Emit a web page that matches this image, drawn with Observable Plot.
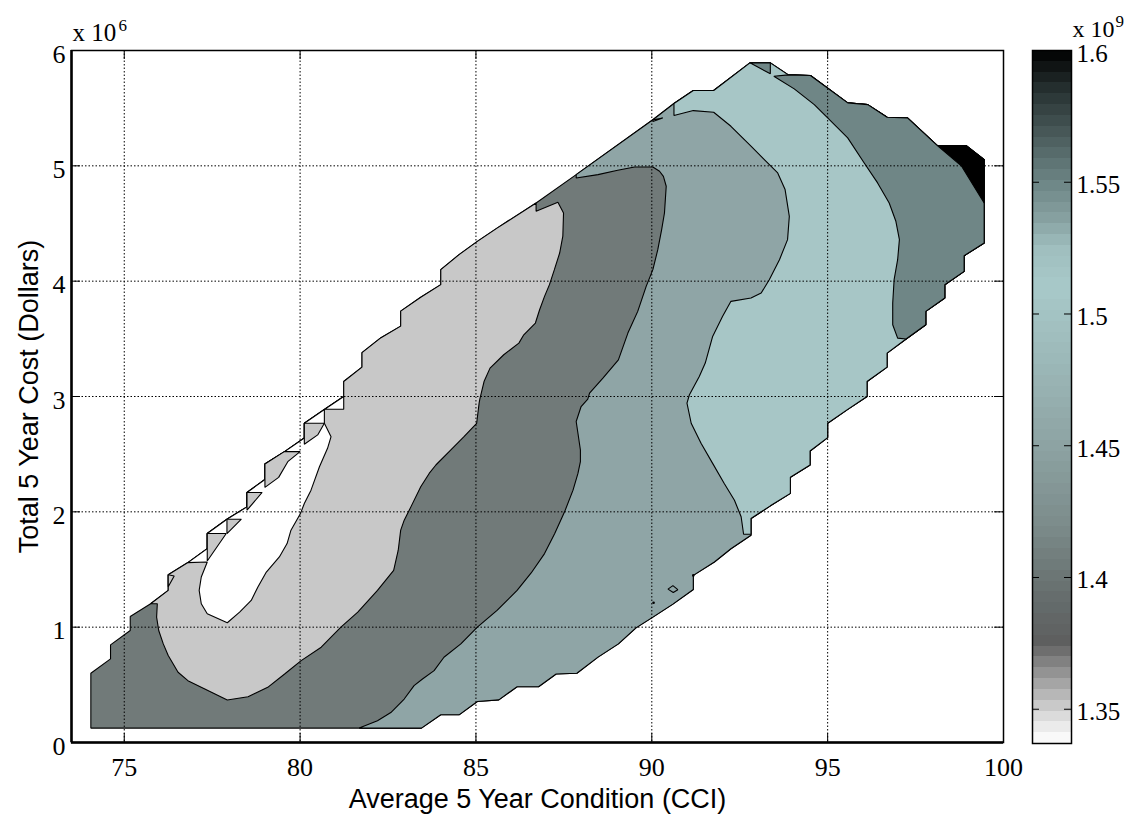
<!DOCTYPE html>
<html><head><meta charset="utf-8">
<script src="https://cdn.jsdelivr.net/npm/d3@7"></script>
<script src="https://cdn.jsdelivr.net/npm/@observablehq/plot@0.6"></script>
<style>
body{margin:0;background:#fff;}
#wrap{position:relative;width:1124px;height:816px;overflow:hidden;}
#wrap svg{position:absolute;top:0;}
</style></head><body><div id="wrap"></div>
<script>
// x: Average 5 Year Condition (CCI); y: Total 5 Year Cost in millions of dollars
const xTicks = [75, 80, 85, 90, 95, 100];
const yTicks = [0, 1, 2, 3, 4, 5, 6];
const cbTicks = [1.35, 1.4, 1.45, 1.5, 1.55, 1.6]; // x 10^9

// outer data domain (filled with the ~1.40e9 level)
const domainPoly = [[74.05,0.125],[74.05,0.60],[74.61,0.725],[74.61,0.846],[75.17,0.971],[75.17,1.093],[75.75,1.203],[76.25,1.319],[76.25,1.455],[76.81,1.56],[77.36,1.681],[77.36,1.812],[77.92,1.936],[78.49,2.043],[78.49,2.168],[79.0,2.28],[79.0,2.414],[79.56,2.522],[80.12,2.64],[80.12,2.768],[80.69,2.887],[81.24,3.0],[81.24,3.13],[81.76,3.255],[81.76,3.38],[82.3,3.51],[82.86,3.61],[82.86,3.74],[83.43,3.86],[84.0,3.97],[84.0,4.10],[84.52,4.23],[85.04,4.345],[85.6,4.46],[86.71,4.678],[87.85,4.924],[90.03,5.40],[90.63,5.54],[91.18,5.653],[91.76,5.653],[92.79,5.893],[93.37,5.893],[93.88,5.789],[94.51,5.783],[95.57,5.546],[96.14,5.531],[96.69,5.421],[97.27,5.416],[98.12,5.176],[98.93,5.176],[99.45,5.054],[99.45,4.331],[98.88,4.221],[98.88,4.085],[98.33,3.969],[98.33,3.854],[97.79,3.738],[97.79,3.622],[97.23,3.498],[96.69,3.376],[96.69,3.255],[96.12,3.13],[96.12,3.0],[95.55,2.884],[95.0,2.768],[95.0,2.643],[94.5,2.528],[94.5,2.406],[93.94,2.3],[93.94,2.16],[93.37,2.052],[92.82,1.942],[92.82,1.797],[92.25,1.68],[91.78,1.565],[91.18,1.449],[91.18,1.327],[90.6,1.2],[90.03,1.087],[89.55,0.994],[89.05,0.855],[88.47,0.74],[87.87,0.6],[87.28,0.594],[86.78,0.484],[86.17,0.484],[85.65,0.37],[85.04,0.356],[84.52,0.24],[84.0,0.24],[83.45,0.125]];

// ~1.35e9 level (light gray hook)
const lightPoly = [[75.75,1.203],[76.25,1.319],[76.25,1.455],[76.81,1.56],[77.36,1.681],[77.36,1.812],[77.92,1.936],[78.49,2.043],[78.49,2.168],[79.0,2.28],[79.0,2.414],[79.56,2.522],[80.12,2.64],[80.12,2.768],[80.69,2.887],[81.24,3.0],[81.24,3.13],[81.76,3.255],[81.76,3.38],[82.3,3.51],[82.86,3.61],[82.86,3.74],[83.43,3.86],[84.0,3.97],[84.0,4.10],[84.52,4.23],[85.04,4.345],[85.6,4.46],[86.71,4.678],[86.71,4.606],[87.33,4.684],[87.49,4.59],[87.47,4.39],[87.38,4.244],[87.23,4.1],[87.09,3.97],[86.95,3.868],[86.81,3.752],[86.69,3.637],[86.36,3.535],[86.22,3.463],[85.79,3.362],[85.4,3.246],[85.23,3.13],[85.11,2.977],[85.09,2.942],[85.02,2.768],[84.66,2.652],[84.28,2.536],[83.86,2.406],[83.67,2.333],[83.43,2.217],[83.15,2.043],[82.96,1.928],[82.86,1.841],[82.79,1.667],[82.66,1.493],[82.2,1.319],[81.64,1.13],[81.16,1.0],[80.6,0.826],[80.03,0.71],[79.56,0.594],[79.08,0.478],[78.52,0.397],[77.93,0.368],[77.29,0.464],[76.81,0.536],[76.53,0.609],[76.25,0.754],[76.11,0.855],[75.98,0.971],[75.92,1.087],[75.94,1.203]];

// lowest level (white pocket)
const whitePoly = [[76.81,1.56],[77.36,1.681],[77.36,1.812],[77.92,1.936],[78.49,2.043],[78.49,2.168],[79.0,2.28],[79.0,2.414],[79.56,2.522],[80.12,2.64],[80.12,2.768],[80.69,2.887],[81.24,3.0],[81.24,2.89],[80.69,2.89],[80.69,2.768],[80.88,2.652],[80.78,2.551],[80.55,2.391],[80.31,2.188],[80.12,2.072],[80.01,1.986],[79.74,1.841],[79.63,1.725],[79.41,1.609],[79.04,1.478],[78.8,1.348],[78.61,1.232],[78.28,1.13],[77.93,1.038],[77.36,1.116],[77.19,1.203],[77.13,1.319],[77.19,1.435],[77.36,1.565]];

// small light gray pieces along the upper edge of the white pocket
const edgeBits = [
  [[76.25,1.455],[76.42,1.443],[76.25,1.35]],
  [[77.36,1.812],[77.9,1.812],[77.36,1.574]],
  [[77.92,1.936],[78.33,1.936],[77.92,1.812]],
  [[78.49,2.168],[78.92,2.168],[78.49,2.014]],
  [[79.0,2.414],[79.55,2.522],[80.0,2.522],[79.65,2.435],[79.39,2.299],[79.0,2.212]],
  [[80.12,2.768],[80.69,2.768],[80.5,2.667],[80.12,2.586]]
];

// ~1.45e9 level (gray blue)
const bluePoly = [[81.68,0.125],[82.2,0.188],[82.58,0.26],[82.96,0.377],[83.24,0.493],[83.48,0.551],[83.81,0.623],[84.09,0.739],[84.57,0.855],[85.04,1.0],[85.6,1.145],[86.17,1.319],[86.57,1.47],[86.95,1.638],[87.24,1.812],[87.52,2.0],[87.76,2.188],[87.9,2.333],[87.97,2.435],[87.97,2.536],[87.9,2.681],[87.85,2.783],[87.99,2.913],[88.18,2.977],[88.23,3.029],[88.61,3.159],[89.05,3.318],[89.32,3.55],[89.6,3.738],[89.84,3.955],[90.03,4.1],[90.17,4.273],[90.28,4.447],[90.36,4.591],[90.41,4.823],[90.33,4.909],[90.22,4.953],[90.03,4.99],[89.51,4.99],[89.03,4.961],[88.47,4.924],[87.85,4.895],[87.85,4.924],[90.03,5.40],[90.63,5.54],[91.18,5.653],[91.76,5.653],[92.79,5.893],[93.37,5.893],[93.88,5.789],[94.51,5.783],[95.57,5.546],[96.14,5.531],[96.69,5.421],[97.27,5.416],[98.12,5.176],[98.93,5.176],[99.45,5.054],[99.45,4.331],[98.88,4.221],[98.88,4.085],[98.33,3.969],[98.33,3.854],[97.79,3.738],[97.79,3.622],[97.23,3.498],[96.69,3.376],[96.69,3.255],[96.12,3.13],[96.12,3.0],[95.55,2.884],[95.0,2.768],[95.0,2.643],[94.5,2.528],[94.5,2.406],[93.94,2.3],[93.94,2.16],[93.37,2.052],[92.82,1.942],[92.82,1.797],[92.25,1.68],[91.78,1.565],[91.18,1.449],[91.18,1.327],[90.6,1.2],[90.03,1.087],[89.55,0.994],[89.05,0.855],[88.47,0.74],[87.87,0.6],[87.28,0.594],[86.78,0.484],[86.17,0.484],[85.65,0.37],[85.04,0.356],[84.52,0.24],[84.0,0.24],[83.45,0.125]];
const blueNotch = [[90.03,5.40],[90.31,5.414],[90.03,5.385]];

// ~1.50e9 level (light cyan)
const cyanPoly = [[90.63,5.54],[90.63,5.436],[91.18,5.479],[91.76,5.465],[92.25,5.343],[92.82,5.17],[93.2,5.054],[93.58,4.938],[93.79,4.794],[93.91,4.562],[93.86,4.36],[93.63,4.186],[93.34,4.013],[93.11,3.897],[92.82,3.854],[92.25,3.825],[92.01,3.694],[91.73,3.521],[91.52,3.29],[91.35,3.174],[91.07,3.015],[91.0,2.942],[91.12,2.768],[91.4,2.594],[91.73,2.42],[92.06,2.246],[92.35,2.101],[92.54,1.957],[92.61,1.806],[92.82,1.806],[92.82,1.942],[93.37,2.052],[93.94,2.16],[93.94,2.3],[94.5,2.406],[94.5,2.528],[95.0,2.643],[95.0,2.768],[95.55,2.884],[96.12,3.0],[96.12,3.13],[96.69,3.255],[96.69,3.376],[97.23,3.498],[97.79,3.622],[97.79,3.738],[98.33,3.854],[98.33,3.969],[98.88,4.085],[98.88,4.221],[99.45,4.331],[99.45,5.054],[98.93,5.176],[98.12,5.176],[97.27,5.416],[96.69,5.421],[96.14,5.531],[95.57,5.546],[94.51,5.783],[93.88,5.789],[93.37,5.893],[92.79,5.893],[91.76,5.653],[91.18,5.653]];

// ~1.55e9 level (dark slate)
const slatePoly = [[93.47,5.777],[93.88,5.789],[94.51,5.783],[95.57,5.546],[96.14,5.531],[96.69,5.421],[97.27,5.416],[98.12,5.176],[98.93,5.176],[99.45,5.054],[99.45,4.331],[98.88,4.221],[98.88,4.085],[98.33,3.969],[98.33,3.854],[97.79,3.738],[97.79,3.622],[97.23,3.498],[96.99,3.506],[96.85,3.622],[96.85,3.81],[96.89,4.013],[96.99,4.186],[97.04,4.36],[96.94,4.519],[96.75,4.678],[96.42,4.852],[96.04,5.025],[95.57,5.242],[95.0,5.416],[94.62,5.531],[94.05,5.667]];
const slateTop = [[92.79,5.893],[93.37,5.893],[93.37,5.798]];

// highest level (black corner)
const blackPoly = [[98.12,5.176],[98.93,5.176],[99.45,5.054],[99.45,4.678],[98.8,5.0]];

// small closed contour and isolated contour points
const diamond = [[90.46,1.33],[90.6,1.36],[90.74,1.325],[90.61,1.30]];
const specks = [[90.05,1.212],[91.18,1.449]];

// colormap stops (value x 10^9, colour)
const cbStops = [[1.337,"#ffffff"],[1.342,"#f0f0f0"],[1.347,"#dcdcdc"],[1.352,"#c6c6c6"],[1.357,"#b0b0b0"],[1.362,"#9a9a9a"],[1.367,"#858585"],[1.372,"#6e6e6e"],[1.376,"#5e5f5f"],[1.39,"#646b6b"],[1.40,"#6b7574"],[1.42,"#7c8c8b"],[1.45,"#8da3a3"],[1.48,"#9bb7b7"],[1.51,"#a8c9c9"],[1.525,"#9fbebe"],[1.535,"#89a3a3"],[1.55,"#6c8585"],[1.57,"#455555"],[1.585,"#263030"],[1.6,"#000000"]];
const cbBandCount = 64;

const C = {light:"#c8c8c8", dark:"#717a79", blue:"#8fa5a6", cyan:"#a7c6c6", slate:"#6f8686"};
const serif = "Liberation Serif, Times New Roman, serif";
const sans = "Liberation Sans, Arial, sans-serif";

const poly = (data, fill, extra = {}) => Plot.line(data, {x: d => d[0], y: d => d[1], curve: "linear-closed", fill, stroke: "black", strokeWidth: 1.1, strokeLinejoin: "miter", ...extra});

const FW = 1124 - 71 - 121, FH = 816 - 50 - 74;

const main = Plot.plot({
  width: 1124, height: 816,
  marginLeft: 71, marginRight: 121, marginTop: 50, marginBottom: 74,
  x: {domain: [73.5, 100], axis: null},
  y: {domain: [0, 6], axis: null},
  style: {background: "transparent", overflow: "visible"},
  marks: [
    poly(domainPoly, C.dark),
    poly(lightPoly, C.light),
    poly(whitePoly, "white"),
    ...edgeBits.map(b => poly(b, C.light)),
    poly(bluePoly, C.blue),
    poly(blueNotch, C.blue),
    poly(cyanPoly, C.cyan),
    poly(slatePoly, C.slate),
    poly(slateTop, C.slate),
    poly(blackPoly, "black"),
    poly(diamond, "none"),
    Plot.dot(specks, {x: d => d[0], y: d => d[1], r: 1.3, fill: "black", stroke: null}),
    Plot.gridX(xTicks, {stroke: "black", strokeOpacity: 1, strokeWidth: 1, strokeDasharray: "1.5,2"}),
    Plot.gridY(yTicks, {stroke: "black", strokeOpacity: 1, strokeWidth: 1, strokeDasharray: "1.5,2"}),
    Plot.tickX(xTicks, {insetTop: FH - 9, strokeWidth: 1}),
    Plot.tickX(xTicks, {insetBottom: FH - 9, strokeWidth: 1}),
    Plot.tickY(yTicks, {insetRight: FW - 9, strokeWidth: 1}),
    Plot.tickY(yTicks, {insetLeft: FW - 9, strokeWidth: 1}),
    Plot.frame({stroke: "black", strokeWidth: 1.5}),
    Plot.ruleX([73.5], {strokeWidth: 2.5}),
    Plot.ruleY([0], {strokeWidth: 2.5}),
    Plot.axisX(xTicks, {tickSize: 0, tickPadding: 15, fontSize: 26, fontFamily: serif, label: null, tickFormat: d => String(d), fill: "black"}),
    Plot.axisY(yTicks, {tickSize: 0, tickPadding: 6, fontSize: 26, fontFamily: serif, label: null, tickFormat: d => String(d), dy: 4, fill: "black"}),
    Plot.text(["Average 5 Year Condition (CCI)"], {frameAnchor: "bottom", textAnchor: "middle", lineAnchor: "middle", dy: 57, fontSize: 27, fontFamily: sans, fill: "black"}),
    Plot.text(["Total 5 Year Cost (Dollars)"], {frameAnchor: "left", textAnchor: "middle", lineAnchor: "middle", rotate: -90, dx: -42, fontSize: 27, fontFamily: sans, fill: "black"}),
    Plot.text(["x 10"], {frameAnchor: "top-left", dx: 1, dy: -10, textAnchor: "start", lineAnchor: "bottom", fontSize: 25, fontFamily: serif, fill: "black"}),
    Plot.text(["6"], {frameAnchor: "top-left", dx: 47, dy: -20, textAnchor: "start", lineAnchor: "bottom", fontSize: 17, fontFamily: serif, fill: "black"})
  ]
});

const lo = cbStops[0][0], hi = cbStops[cbStops.length - 1][0];
const step = (hi - lo) / cbBandCount;
const bands = d3.range(cbBandCount).map(i => ({y1: lo + i * step, y2: lo + (i + 1) * step}));

const cb = Plot.plot({
  width: 124, height: 816,
  marginLeft: 32, marginRight: 53, marginTop: 50, marginBottom: 73,
  x: {domain: [0, 1], axis: null},
  y: {domain: [lo, hi], axis: null},
  color: {type: "linear", domain: cbStops.map(s => s[0]), range: cbStops.map(s => s[1])},
  style: {background: "transparent", overflow: "visible"},
  marks: [
    Plot.rect(bands, {x1: 0, x2: 1, y1: "y1", y2: "y2", fill: d => (d.y1 + d.y2) / 2, shapeRendering: "crispEdges"}),
    Plot.tickY(cbTicks, {insetRight: 32, strokeWidth: 1}),
    Plot.tickY(cbTicks, {insetLeft: 32, strokeWidth: 1}),
    Plot.frame({stroke: "black", strokeWidth: 1.5}),
    Plot.text(cbTicks, {y: d => d, frameAnchor: "right", dx: 5, dy: 3, textAnchor: "start", lineAnchor: "middle", text: d => String(d), fontSize: 25, fontFamily: serif, fill: "black"}),
    Plot.text(["x 10"], {frameAnchor: "top-left", dx: 40, dy: -14, textAnchor: "start", lineAnchor: "bottom", fontSize: 24, fontFamily: serif, fill: "black"}),
    Plot.text(["9"], {frameAnchor: "top-left", dx: 83, dy: -24, textAnchor: "start", lineAnchor: "bottom", fontSize: 17, fontFamily: serif, fill: "black"})
  ]
});

const wrap = document.getElementById("wrap");
main.style.left = "0px";
cb.style.left = "1000px";
wrap.appendChild(main);
wrap.appendChild(cb);
</script></body></html>
